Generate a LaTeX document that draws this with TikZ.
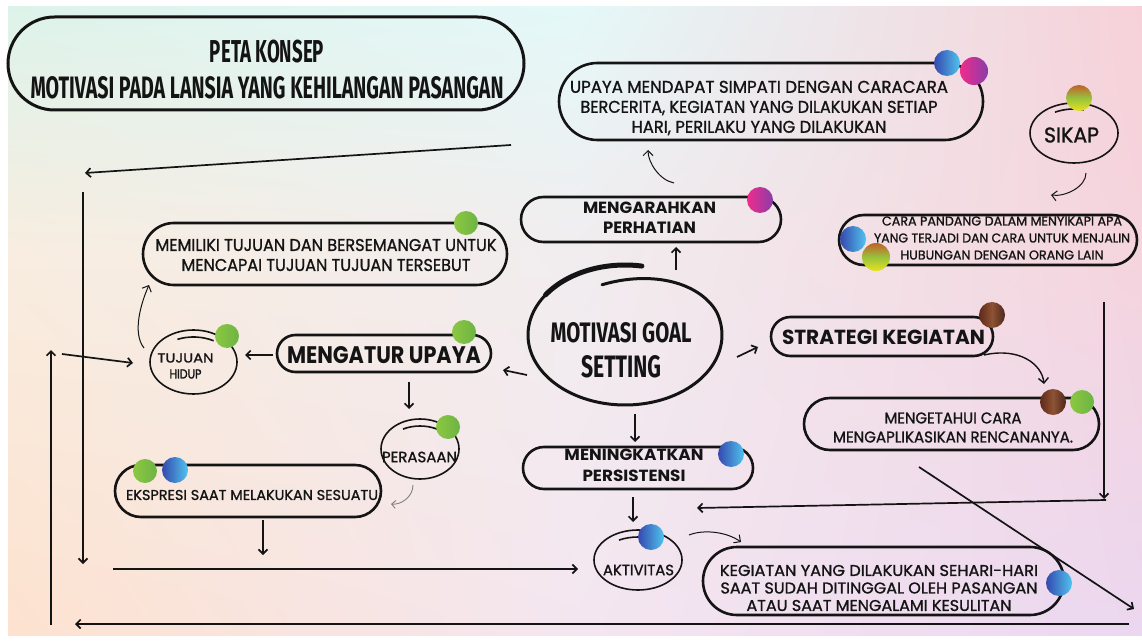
\documentclass[tikz,border=0pt]{standalone}
\usepackage{fontspec}
\setmainfont{Poppins}
\newfontfamily\bodyf{Poppins}[FakeBold=1.2]
\newfontfamily\handfont{Fira Sans}
\usepackage{graphicx}
\usetikzlibrary{arrows.meta,shapes.geometric,shapes.misc,shadings}
\newcommand{\TL}[3]{\resizebox{#1pt}{#2pt}{#3}}
\definecolor{bA1}{HTML}{DDF3EA}
\definecolor{bA2}{HTML}{F8EDE0}
\definecolor{bA3}{HTML}{FDE2CF}
\definecolor{bB1}{HTML}{E4F8F8}
\definecolor{bB2}{HTML}{F1EDEF}
\definecolor{bB3}{HTML}{F4E6F0}
\definecolor{bC1}{HTML}{F7D1D9}
\definecolor{bC2}{HTML}{F5D4DD}
\definecolor{bC3}{HTML}{EBD7F0}
\definecolor{ink}{HTML}{141414}
\definecolor{grA}{HTML}{8CC741}
\definecolor{grB}{HTML}{6DB445}
\definecolor{blA}{HTML}{3549AE}
\definecolor{blB}{HTML}{50C3EE}
\definecolor{pkA}{HTML}{F02C8A}
\definecolor{pkB}{HTML}{8A3CAA}
\definecolor{brA}{HTML}{5E2A1A}
\definecolor{brM}{HTML}{8E5234}
\definecolor{brB}{HTML}{4C281E}
\definecolor{orA}{HTML}{C2602A}
\definecolor{orM}{HTML}{98C23C}
\definecolor{orB}{HTML}{E8E21E}
\begin{document}
\begin{tikzpicture}[x=1pt,y=-1pt,
  pill/.style={draw=ink, line width=2.6pt, rounded rectangle, inner sep=0pt},
  oval/.style={draw=ink, line width=1.6pt, ellipse, inner sep=0pt},
  txt/.style={align=center, inner sep=0pt, text=ink},
  arr/.style={draw=ink, line width=1.7pt, -{Straight Barb[length=4.5pt,width=9pt]}},
  thinarr/.style={draw=ink, line width=1pt, -{Straight Barb[length=5pt,width=10pt]}},
  grayarr/.style={draw=gray, line width=0.9pt, -{Straight Barb[length=4pt,width=8pt]}},
  gball/.style={left color=grA, right color=grB},
  bball/.style={left color=blA, right color=blB},
  pball/.style={left color=pkA, right color=pkB},
  nball/.style={left color=brA, right color=brB, middle color=brM},
  oball/.style={top color=orA, bottom color=orB, middle color=orM}]
\useasboundingbox (0,0) rectangle (1142,644);
\fill[white] (0,0) rectangle (1142,644);
% background: 2x2 bilinear patches
\shade[upper left=bA1, upper right=bB1, lower left=bA2, lower right=bB2] (8,7) rectangle (576,251);
\shade[upper left=bB1, upper right=bC1, lower left=bB2, lower right=bC2] (575,7) rectangle (1142,251);
\shade[upper left=bA2, upper right=bB2, lower left=bA3, lower right=bB3] (8,250) rectangle (576,635);
\shade[upper left=bB2, upper right=bC2, lower left=bB3, lower right=bC3] (575,250) rectangle (1142,635);

% ---------- frame lines ----------
\coordinate (c1) at (85,173);
\coordinate (vL1) at (83,192);
\coordinate (vL2) at (83,564);
\coordinate (h1) at (113,569);
\coordinate (b1) at (1129,624);
\coordinate (b2) at (75,624);
\coordinate (u1) at (51,625);
\coordinate (u2) at (51,350);
\coordinate (in1) at (62,354);
\coordinate (e1) at (263,555);
\coordinate (r1) at (1104,302);
\coordinate (r2) at (1104,499);
\coordinate (r3) at (1106,500);
\coordinate (r4) at (697,508);
\coordinate (d1) at (1134,609);

% ---------- boxes ----------
\node[pill, line width=3pt, minimum width=516pt, minimum height=93pt] (title) at (266,63.5) {};
\node[txt, font=\handfont\bfseries\fontsize{20}{36}\selectfont] (titleT) at (267,69.75)
  {\TL{114}{22.5}{PETA KONSEP}\\\TL{473}{22}{MOTIVASI PADA LANSIA YANG KEHILANGAN PASANGAN}};

\node[pill, minimum width=424pt, minimum height=77pt] (upaya) at (771,101.5) {};
\node[txt, font=\bodyf\fontsize{10}{20}\selectfont] (upayaT) at (759,108)
  {\TL{378}{12}{UPAYA MENDAPAT SIMPATI DENGAN CARACARA}\\\TL{357}{12}{BERCERITA, KEGIATAN YANG DILAKUKAN SETIAP}\\\TL{255}{12}{HARI, PERILAKU YANG DILAKUKAN}};

\node[oval, minimum width=88pt, minimum height=60pt] (sikap) at (1074,133) {};
\node[txt, font=\bodyf\fontsize{12}{16}\selectfont] (sikapT) at (1071.5,135) {\TL{55}{15}{SIKAP}};

\node[pill, minimum width=298pt, minimum height=50pt] (cara) at (988,240) {};
\node[txt, font=\bodyf\fontsize{8}{17}\selectfont] (caraT) at (1002,238)
  {\TL{240}{9}{CARA PANDANG DALAM MENYIKAPI APA}\\\TL{256}{9}{YANG TERJADI DAN CARA UNTUK MENJALIN}\\\TL{203}{9}{HUBUNGAN DENGAN ORANG LAIN}};

\node[pill, minimum width=260pt, minimum height=45pt] (arah) at (651,219.5) {};
\node[txt, font=\bfseries\fontsize{10}{20}\selectfont] (arahT) at (649.5,218)
  {\TL{133}{11.5}{MENGARAHKAN}\\\TL{93}{11.5}{PERHATIAN}};

\node[pill, minimum width=364pt, minimum height=62pt] (memiliki) at (325,254) {};
\node[txt, font=\bodyf\fontsize{10}{20}\selectfont] (memilikiT) at (326,255)
  {\TL{341}{12}{MEMILIKI TUJUAN DAN BERSEMANGAT UNTUK}\\\TL{289}{12}{MENCAPAI TUJUAN TUJUAN TERSEBUT}};

% central goal
\node[ellipse, minimum width=194pt, minimum height=140pt, inner sep=0pt] (goal) at (625,335) {};
\draw[ink, line width=3pt, line cap=round] plot[domain=280:-105, samples=90, smooth]
  ({625+(97-8*max(0,(-20-\x)/85))*cos(\x)}, {335+(70-18*max(0,(-20-\x)/85))*sin(\x)});
\draw[ink, line width=5pt, line cap=round] plot[domain=280:215, samples=20, smooth]
  ({625+97*cos(\x)}, {335+70*sin(\x)});
\node[txt, font=\handfont\bfseries\fontsize{18}{34.5}\selectfont] (goalT) at (621,350.25)
  {\TL{141}{20}{MOTIVASI GOAL}\\\TL{80}{22}{SETTING}};

\node[pill, minimum width=214pt, minimum height=37pt] (atur) at (384,353.5) {};
\node[txt, font=\bfseries\fontsize{14}{18}\selectfont] (aturT) at (384,355.5) {\TL{194}{17}{MENGATUR UPAYA}};

\node[oval, minimum width=87pt, minimum height=64pt] (tujuan) at (193.5,362) {};
\node[txt, font=\bodyf\fontsize{8}{16}\selectfont] (tujuanT) at (185.5,366) {\TL{56}{9}{TUJUAN}\\\TL{32}{9}{HIDUP}};

\node[pill, minimum width=222pt, minimum height=39pt] (strategi) at (882,336.5) {};
\node[txt, font=\bfseries\fontsize{12}{16}\selectfont] (strategiT) at (883.5,337) {\TL{203}{14.5}{STRATEGI KEGIATAN}};

\node[pill, minimum width=295pt, minimum height=52pt] (mengetahui) at (951.5,424) {};
\node[txt, font=\bodyf\fontsize{9}{19}\selectfont] (mengetahuiT) at (953,427.5)
  {\TL{137}{11}{MENGETAHUI CARA}\\\TL{240}{11}{MENGAPLIKASIKAN RENCANANYA.}};

\node[oval, minimum width=78pt, minimum height=60pt] (perasaan) at (420,449) {};
\node[txt, font=\bodyf\fontsize{9}{14}\selectfont] (perasaanT) at (419.5,457) {\TL{75}{10.5}{PERASAAN}};

\node[pill, minimum width=266pt, minimum height=52pt] (ekspresi) at (248,491) {};
\node[txt, font=\bodyf\fontsize{9}{14}\selectfont] (ekspresiT) at (252,495) {\TL{252}{10}{EKSPRESI SAAT MELAKUKAN SESUATU}};

\node[pill, minimum width=230pt, minimum height=42pt] (tingkat) at (638,468) {};
\node[txt, font=\bfseries\fontsize{10}{21}\selectfont] (tingkatT) at (634,465.5)
  {\TL{139}{11.5}{MENINGKATKAN}\\\TL{103}{11.5}{PERSISTENSI}};

\node[oval, minimum width=88pt, minimum height=60pt] (aktivitas) at (638,560) {};
\node[txt, font=\bodyf\fontsize{9}{14}\selectfont] (aktivitasT) at (638.5,570) {\TL{71}{10.5}{AKTIVITAS}};

\node[pill, minimum width=361pt, minimum height=68pt] (kegiatan) at (883.5,581) {};
\node[txt, font=\bodyf\fontsize{9}{17.5}\selectfont] (kegiatanT) at (879,588)
  {\TL{318}{11}{KEGIATAN YANG DILAKUKAN SEHARI-HARI}\\\TL{317}{11}{SAAT SUDAH DITINGGAL OLEH PASANGAN}\\\TL{265}{11}{ATAU SAAT MENGALAMI KESULITAN}};

% inner strokes of small ovals
\draw[ink, line width=1.6pt] ([shift={(-115:38 and 25)}]tujuan.center) arc[start angle=-115, end angle=-58, x radius=38, y radius=25];
\draw[ink, line width=1.6pt] ([shift={(-120:34 and 23)}]perasaan.center) arc[start angle=-120, end angle=-60, x radius=34, y radius=23];
\draw[ink, line width=1.6pt] ([shift={(-120:38 and 23)}]aktivitas.center) arc[start angle=-120, end angle=-60, x radius=38, y radius=23];
\draw[ink, line width=1.6pt] ([shift={(-120:38 and 24)}]sikap.center) arc[start angle=-120, end angle=-75, x radius=38, y radius=24];

% ---------- balls ----------
\shade[bball] (947,63) circle[radius=13pt];
\shade[pball] (974,71) circle[radius=14pt];
\shade[oball] (1079,98) circle[radius=13pt];
\shade[bball] (853,239) circle[radius=13pt];
\shade[oball] (876,257) circle[radius=14pt];
\shade[pball] (760,200) circle[radius=13pt];
\shade[gball] (466,223) circle[radius=12pt];
\shade[gball] (464,332) circle[radius=12pt];
\shade[gball] (227,336) circle[radius=12pt];
\shade[nball] (992,315) circle[radius=13pt];
\shade[nball] (1053,402) circle[radius=13pt];
\shade[gball] (1082,402) circle[radius=12pt];
\shade[gball] (448,427) circle[radius=12pt];
\shade[gball] (145,471) circle[radius=12pt];
\shade[bball] (175,470) circle[radius=13pt];
\shade[bball] (731,454) circle[radius=13pt];
\shade[bball] (651,537) circle[radius=13pt];
\shade[bball] (1059,583) circle[radius=13pt];

% ---------- connectors ----------
\draw[arr] ([shift={(245,81.5)}]title.center) -- (c1);
\draw[arr] (vL1) -- (vL2);
\draw[arr] (h1) -- ([shift={(-60,9)}]aktivitas.center);
\draw[arr] (b1) -- (b2);
\draw[arr] (u1) -- (u2);
\draw[arr] (in1) -- ([shift={(-60.5,1)}]tujuan.center);
\draw[arr] ([shift={(-111,1.5)}]atur.center) -- ([shift={(51.5,-7)}]tujuan.center);
\draw[thinarr] ([shift={(-49.5,-14)}]tujuan.center) .. controls +(-12,-15) and +(-8,18) .. ([shift={(-176,31)}]memiliki.center);
\draw[arr] ([shift={(25,28.5)}]atur.center) -- ([shift={(-11,-40)}]perasaan.center);
\draw[grayarr] ([shift={(-7,36)}]perasaan.center) .. controls +(0,12) and +(10,1) .. ([shift={(143,13)}]ekspresi.center);
\draw[arr] ([shift={(15,29)}]ekspresi.center) -- (e1);
\draw[arr] ([shift={(-98,40)}]goal.center) -- ([shift={(119,16.5)}]atur.center);
\draw[arr] ([shift={(51,-65)}]goal.center) -- ([shift={(25,27.5)}]arah.center);
\draw[thinarr] ([shift={(23,-36.5)}]arah.center) .. controls +(-15,-3) and +(0,12) .. ([shift={(-123,48.5)}]upaya.center);
\draw[arr] ([shift={(112,22)}]goal.center) -- ([shift={(-124,10.5)}]strategi.center);
\draw[arr] ([shift={(10,79)}]goal.center) -- ([shift={(-3,-26)}]tingkat.center);
\draw[arr] ([shift={(-5,29)}]tingkat.center) -- ([shift={(-5,-38)}]aktivitas.center);
\draw[thinarr] ([shift={(51,-25)}]aktivitas.center) .. controls +(15,-6) and +(-14,-10) .. ([shift={(-142.5,-39)}]kegiatan.center);
\draw[thinarr] ([shift={(12,40)}]sikap.center) .. controls +(0,14) and +(14,2) .. ([shift={(63,-45)}]cara.center);
\draw[thinarr, line width=1.4pt] ([shift={(102,18.5)}]strategi.center) .. controls +(35,-8) and +(-2,-20) .. ([shift={(92.5,-40)}]mengetahui.center);
\draw[arr] (r1) -- (r2);
\draw[arr] (r3) -- (r4);
\draw[arr] ([shift={(-32.5,43)}]mengetahui.center) -- (d1);
\end{tikzpicture}
\end{document}
